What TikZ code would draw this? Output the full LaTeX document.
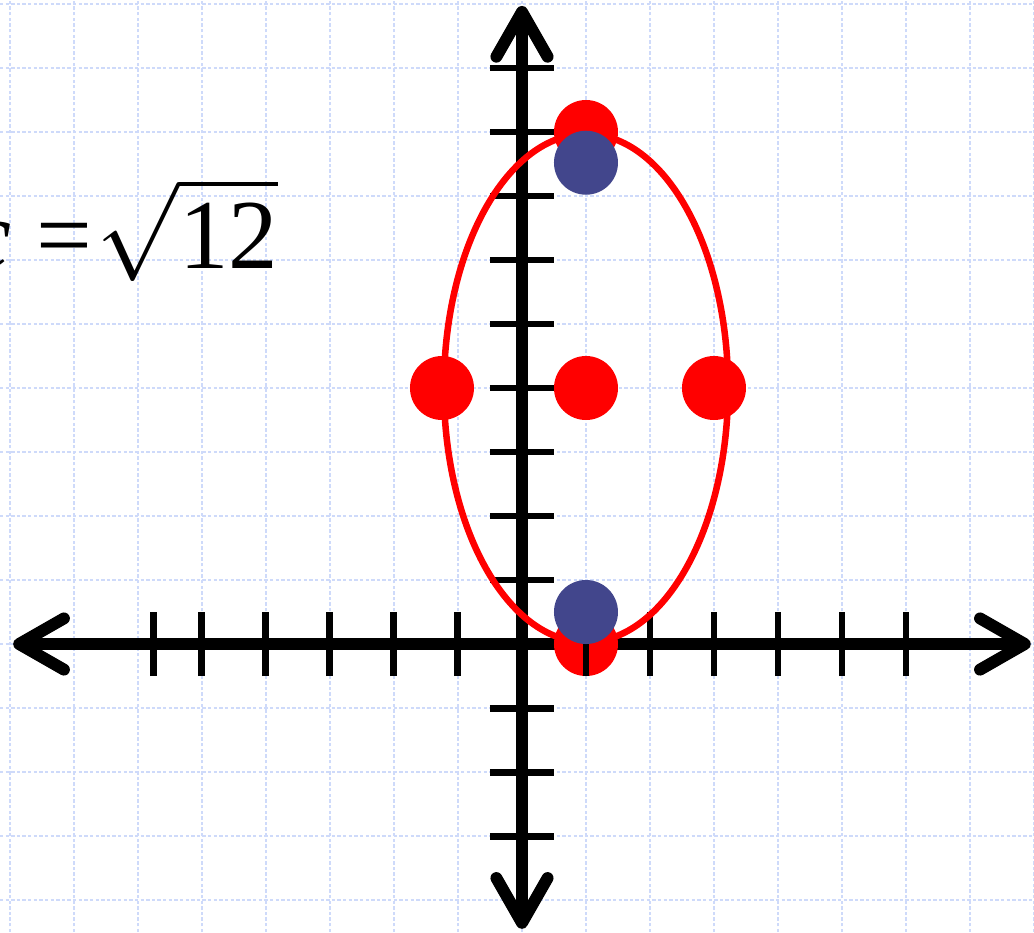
\RequirePackage{fix-cm}
\documentclass[tikz,border=0pt]{standalone}
\usepackage{amsmath}
\usepackage{fontspec}
\setmainfont{Liberation Serif}
\usetikzlibrary{arrows.meta}
\definecolor{gridblue}{RGB}{206,218,250}
\definecolor{focusblue}{RGB}{66,70,140}
\tikzset{
  gridline/.style={draw=gridblue,line width=0.7pt,dash pattern=on 1.5pt off 1pt},
  barb/.tip      ={Straight Barb[length=0.7cm,width=0.8cm,round]},
  axis/.style    ={line width=5.3pt,barb-barb},
  axtick/.style  ={line width=3.1pt},
  curve/.style   ={draw=red,line width=2.9pt},
  vtx/.style     ={circle,fill=red,inner sep=0pt,minimum size=1cm},
  focus/.style   ={circle,fill=focusblue,inner sep=0pt,minimum size=1cm},
  eqlabel/.style ={font=\fontsize{44}{50}\selectfont,inner sep=0pt},
}

\begin{document}
\begin{tikzpicture}
  \useasboundingbox (-8.156,-4.5) rectangle (8,10.0625);
  % background grid
  \draw[gridline] (-8.156,-4.5) grid (8,10.0625);
  % axes
  \draw[axis] (-7.95,0) -- (7.95,0);
  \draw[axis] (0,-4.45) -- (0,9.97);
  \foreach \x in {-5.75,-5,-4,-3,-2,-1,2,3,4,5,6}
    \draw[axtick] (\x,-0.5) -- (\x,0.5);
  \foreach \y in {-3,-2,-1,1,2,3,4,5,6,7,8,9}
    \draw[axtick] (-0.5,\y) -- (0.5,\y);
  % ellipse
  \draw[curve] (1,4) ellipse (2.22 and 3.97);
  % vertices and center
  \node[vtx] (top)    at (1,8) {};
  \node[vtx] (bottom) at (1,0) {};
  \node[vtx] (left)   at (-1.25,4) {};
  \node[vtx] (right)  at (3,4) {};
  \node[vtx] (center) at (1,4) {};
  \draw[axtick] (1,-0.5) -- (1,0.5);
  % foci
  \node[focus] (ftop) at (1,7.52) {};
  \node[focus] (fbot) at (1,0.5) {};
  % label
  \node[eqlabel,anchor=base east] (ceq) at (-3.8,5.875)
    {{\itshape c}\kern11pt=\kern2pt$\sqrt{\text{12}}$};
\end{tikzpicture}
\end{document}
